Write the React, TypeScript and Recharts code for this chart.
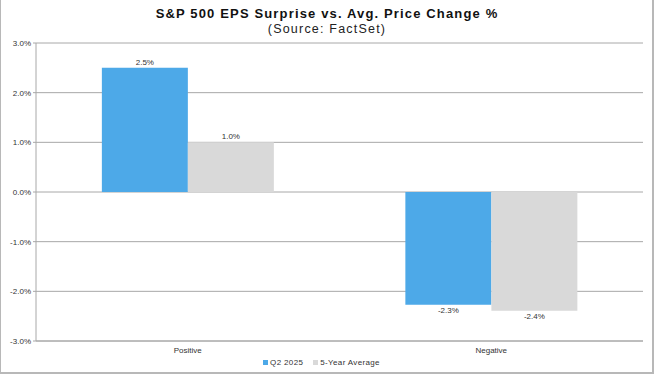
import React from 'react'
import {
  BarChart,
  Bar,
  XAxis,
  YAxis,
  CartesianGrid,
  Legend,
  LabelList,
} from 'recharts'

const categories = ['Positive', 'Negative']
const q2_2025 = [2.5, -2.27]
const fiveYearAvg = [1.0, -2.39]
const yTicks = [-3, -2, -1, 0, 1, 2, 3]

const data = categories.map((name, i) => ({
  name,
  q2: q2_2025[i],
  avg: fiveYearAvg[i],
}))

const FONT = '"Liberation Sans", Arial, sans-serif'
const pct = (v: number) => `${Number(v).toFixed(1)}%`

function LegendContent() {
  const items = [
    { label: 'Q2 2025', color: '#4DA9E8' },
    { label: '5-Year Average', color: '#D9D9D9' },
  ]
  return (
    <div style={{ display: 'flex', justifyContent: 'center', gap: 10, fontSize: 8, letterSpacing: 0.35, color: '#333', fontFamily: FONT }}>
      {items.map((it) => (
        <span key={it.label} style={{ display: 'flex', alignItems: 'center', gap: 2 }}>
          <span style={{ width: 5, height: 5, background: it.color, display: 'inline-block' }} />
          {it.label}
        </span>
      ))}
    </div>
  )
}

export default function App() {
  return (
    <div style={{ position: 'absolute', left: 0, top: 0, width: 654, height: 374, background: '#fff', fontFamily: FONT }}>
      <div
        style={{
          position: 'absolute',
          inset: 0,
          borderLeft: '1px solid #b8b8b8',
          borderRight: '2px solid #b8b8b8',
          borderBottom: '2px solid #b8b8b8',
          boxSizing: 'border-box',
          pointerEvents: 'none',
          zIndex: 2,
        }}
      />
      {/* titles */}
      <div style={{ position: 'absolute', top: 8, width: 654, textAlign: 'center', fontSize: 13, lineHeight: '12px', letterSpacing: 1.15, fontWeight: 'bold', color: '#111' }}>
        S&amp;P 500 EPS Surprise vs. Avg. Price Change %
      </div>
      <div style={{ position: 'absolute', top: 23, width: 654, textAlign: 'center', fontSize: 12.5, lineHeight: '12px', letterSpacing: 1.2, color: '#222' }}>
        (Source: FactSet)
      </div>
      <BarChart
        width={654}
        height={374}
        data={data}
        margin={{ top: 43, right: 11, left: 0, bottom: 0 }}
        barCategoryGap="21.7%"
        barGap={0}
      >
        <CartesianGrid vertical={false} stroke="#a8a8a8" />
        <XAxis
          dataKey="name"
          height={15}
          tickLine={false}
          axisLine={{ stroke: '#a8a8a8' }}
          tick={{ fontSize: 8, fill: '#333', fontFamily: FONT }}
          tickMargin={0}
        />
        <YAxis
          width={36}
          domain={[-3, 3]}
          ticks={yTicks}
          tickFormatter={pct}
          tickSize={3}
          tickLine={{ stroke: '#a8a8a8' }}
          axisLine={{ stroke: '#a8a8a8' }}
          tick={{ fontSize: 8, fill: '#333', fontFamily: FONT }}
          interval={0}
        />
        <Legend verticalAlign="bottom" height={18} content={<LegendContent />} wrapperStyle={{ bottom: -2 }} />
        <Bar dataKey="q2" name="Q2 2025" fill="#4DA9E8" isAnimationActive={false}>
          <LabelList dataKey="q2" position="top" offset={3} formatter={pct} style={{ fontSize: 8, fill: '#333', fontFamily: FONT }} />
        </Bar>
        <Bar dataKey="avg" name="5-Year Average" fill="#D9D9D9" isAnimationActive={false}>
          <LabelList dataKey="avg" position="top" offset={3} formatter={pct} style={{ fontSize: 8, fill: '#333', fontFamily: FONT }} />
        </Bar>
      </BarChart>
    </div>
  )
}
